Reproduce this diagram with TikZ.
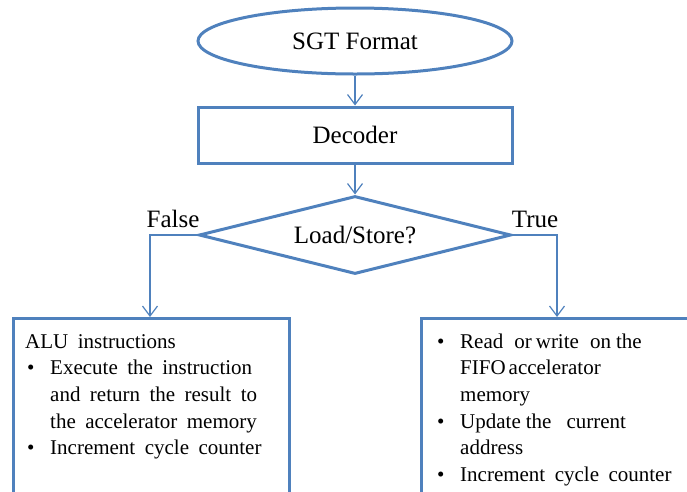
\documentclass[tikz,border=0pt]{standalone}
\usepackage{fontspec}
\setmainfont{Liberation Serif}
\newfontfamily\boxfont{Liberation Serif}[WordSpace=1.8]
\usetikzlibrary{shapes.geometric,arrows.meta}
\definecolor{ln}{RGB}{79,129,189}
\tikzset{
  shapeline/.style={draw=ln, line width=3pt, inner sep=0pt},
  conn/.style={draw=ln, line width=1.2pt, -{Straight Barb[length=10pt,width=15pt]}},
  big/.style={font=\fontsize{25}{30}\selectfont},
  boxtext/.style={inner sep=0pt, anchor=base west, font=\boxfont\fontsize{21}{26.7}\selectfont},
}
\newcommand\bul{\makebox[23pt][l]{\textbullet}}
\newcommand\ind{\hspace*{23pt}}
\begin{document}
\begin{tikzpicture}[x=1pt,y=-1pt]
\useasboundingbox (0,0) rectangle (687,491);
\clip (0,0) rectangle (687,491);
\node[shapeline, ellipse, minimum width=314pt, minimum height=66pt, big] (fmt) at (355,41) {SGT Format};
\node[shapeline, rectangle, minimum width=314pt, minimum height=56pt, big] (dec) at (355,135) {Decoder};
\node[shapeline, diamond, shape aspect=4, minimum width=312pt, minimum height=78pt, big] (dia) at (355,235) {Load/Store?};
\node[big, anchor=base, inner sep=0pt] (fl) at (173,227) {False};
\node[big, anchor=base, inner sep=0pt] (tr) at (535,227) {True};
\node[shapeline, rectangle, anchor=north west, minimum width=276pt, minimum height=220pt] (lbox) at (12,317) {};
\node[shapeline, rectangle, anchor=north west, minimum width=300pt, minimum height=220pt] (rbox) at (420,317) {};
\coordinate (lx) at (150,0);
\coordinate (rx) at (557,0);
\draw[conn] (fmt) -- (dec);
\draw[conn] (dec) -- (dia);
\draw[conn] (dia.west) -| (lx |- lbox.north);
\draw[conn] (dia.east) -| (rx |- rbox.north);
\node[boxtext] (ltxt) at (25,348) {\begin{tabular}[t]{@{}l@{}}
ALU instructions\\
\hspace*{2pt}\bul Execute the instruction\\
\hspace*{2pt}\ind and return the result to\\
\hspace*{2pt}\ind the accelerator memory\\
\hspace*{2pt}\bul Increment cycle counter
\end{tabular}};
\node[boxtext] (rtxt) at (437,348) {\begin{tabular}[t]{@{}l@{}}
\bul Read\hspace{11pt}or\hspace{4pt}write\hspace{11pt}on\hspace{5pt}the\\
\ind FIFO\hspace{3pt}accelerator\\
\ind memory\\
\bul Update\hspace{5pt}the\hspace{15pt}current\\
\ind address\\
\bul Increment cycle counter
\end{tabular}};
\end{tikzpicture}
\end{document}
